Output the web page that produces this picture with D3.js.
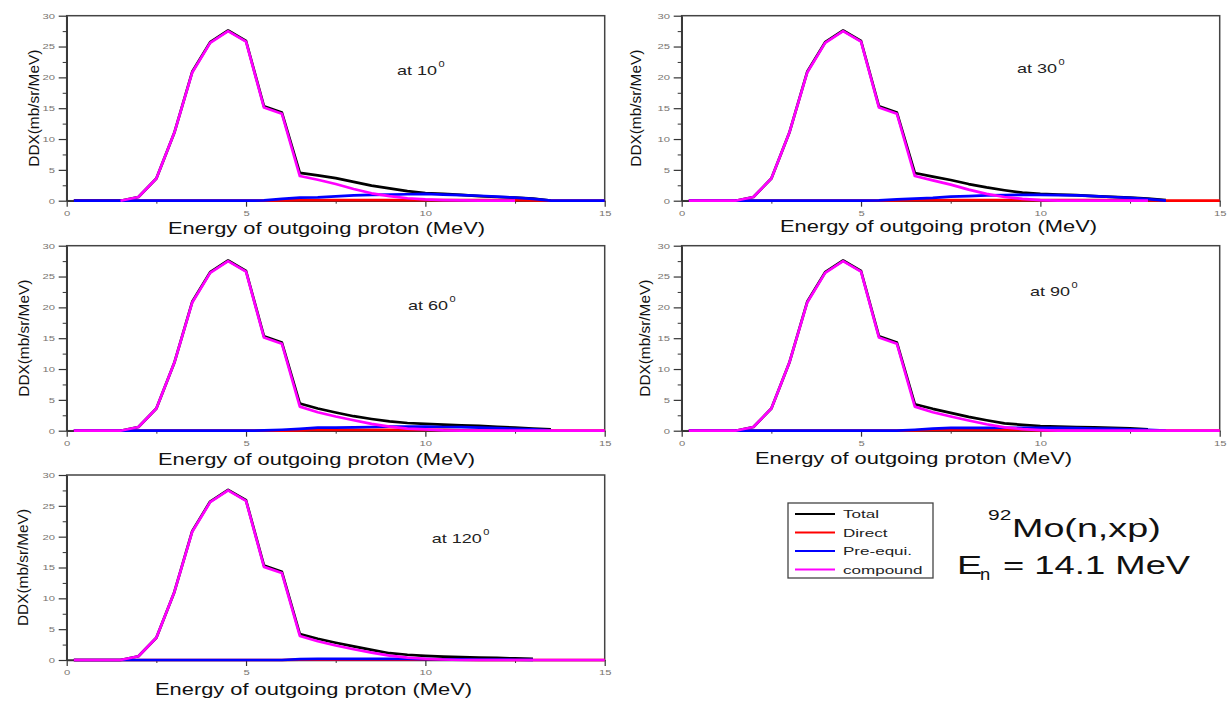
<!DOCTYPE html>
<html>
<head>
<meta charset="utf-8">
<script src="https://cdn.jsdelivr.net/npm/d3@7"></script>
<style>
  body { margin: 0; background: #fff; }
  svg { font-family: "Liberation Sans", Arial, sans-serif; }
</style>
</head>
<body>
<div id="graph"></div>
<script>
// outgoing proton energy grid (MeV)
var energy = [0.2, 0.5, 1, 1.5, 2, 2.5, 3, 3.5, 4, 4.5, 5, 5.5, 6, 6.5, 7, 7.5, 8, 8.5,
  9, 9.5, 10, 10.5, 11, 11.5, 12, 12.5, 13, 13.5, 14, 14.5, 15];

// DDX (mb/sr/MeV), null = not drawn
var total10 = [0, 0, 0, 0, 0.6, 3.6, 11.0, 20.9, 25.7, 27.6, 25.9, 15.3, 14.3, 4.5, 4.1, 3.65, 3.05, 2.45,
  2.0, 1.55, 1.25, 1.1, 0.95, 0.75, 0.6, 0.5, 0.35, 0, null, null, null];
var direct10 = [0, 0, 0, 0, 0, 0, 0, 0, 0, 0, 0, 0, 0.05, 0.08, 0.08, 0.08, 0.08, 0.08,
  0.08, 0.08, 0.08, 0.08, 0.08, 0.08, 0.08, 0.08, 0.05, 0, 0, 0, 0];
var preeq10 = [0, 0, 0, 0, 0, 0, 0, 0, 0, 0, 0, 0.05, 0.3, 0.5, 0.55, 0.7, 0.85, 0.95,
  1.0, 1.05, 1.1, 1.0, 0.9, 0.8, 0.65, 0.5, 0.3, 0, 0, 0, 0];
var compound10 = [null, null, null, 0, 0.6, 3.6, 11.0, 20.8, 25.6, 27.5, 25.8, 15.1, 14.1, 4.0, 3.4, 2.7, 1.9, 1.2,
  0.75, 0.4, 0.2, 0.1, 0.05, 0, 0, 0, null, null, null, null, null];

var total30 = [0, 0, 0, 0, 0.6, 3.6, 11.0, 20.9, 25.7, 27.6, 25.9, 15.3, 14.3, 4.5, 3.9, 3.35, 2.7, 2.15,
  1.7, 1.3, 1.1, 1.0, 0.9, 0.75, 0.62, 0.5, 0.35, 0.1, null, null, null];
var direct30 = [0, 0, 0, 0, 0, 0, 0, 0, 0, 0, 0, 0, 0.05, 0.08, 0.08, 0.08, 0.08, 0.08,
  0.08, 0.08, 0.08, 0.08, 0.08, 0.08, 0.08, 0.08, 0.05, 0, 0, 0, 0];
var preeq30 = [0, 0, 0, 0, 0, 0, 0, 0, 0, 0, 0, 0.05, 0.2, 0.35, 0.45, 0.65, 0.75, 0.85,
  0.9, 0.95, 0.95, 0.9, 0.85, 0.75, 0.6, 0.45, 0.25, 0, null, null, null];
var compound30 = [0, 0, 0, 0, 0.6, 3.6, 11.0, 20.8, 25.6, 27.5, 25.8, 15.1, 14.1, 4.0, 3.3, 2.6, 1.8, 1.1,
  0.6, 0.3, 0.1, 0, 0, 0, 0, 0, 0, null, null, null, null];

var total60 = [0, 0, 0, 0, 0.6, 3.6, 11.0, 20.9, 25.7, 27.6, 25.9, 15.3, 14.3, 4.4, 3.6, 2.95, 2.35, 1.9,
  1.5, 1.25, 1.1, 0.98, 0.88, 0.77, 0.62, 0.5, 0.35, 0.2, null, null, null];
var direct60 = [0, 0, 0, 0, 0, 0, 0, 0, 0, 0, 0, 0, 0, 0.05, 0.15, 0.15, 0.15, 0.15,
  0.15, 0.15, 0.15, 0.15, 0.05, 0, 0, 0, 0, 0, 0, 0, 0];
var preeq60 = [0, 0, 0, 0, 0, 0, 0, 0, 0, 0, 0, 0.05, 0.15, 0.3, 0.5, 0.5, 0.55, 0.6,
  0.65, 0.65, 0.65, 0.6, 0.58, 0.5, 0.42, 0.32, 0.2, 0.05, null, null, null];
var compound60 = [0, 0, 0, 0, 0.6, 3.6, 11.0, 20.8, 25.6, 27.5, 25.8, 15.1, 14.1, 3.9, 3.0, 2.3, 1.7, 1.1,
  0.65, 0.35, 0.2, 0.05, 0, 0, 0, 0, 0, 0, 0, 0, 0];

var total90 = [0, 0, 0, 0, 0.6, 3.6, 11.0, 20.9, 25.7, 27.6, 25.9, 15.3, 14.3, 4.3, 3.55, 2.9, 2.25, 1.7,
  1.2, 0.95, 0.76, 0.68, 0.6, 0.54, 0.48, 0.38, 0.22, null, null, null, null];
var direct90 = [0, 0, 0, 0, 0, 0, 0, 0, 0, 0, 0, 0, 0, 0.05, 0.12, 0.12, 0.12, 0.12,
  0.12, 0.12, 0.05, 0, 0, 0, 0, 0, 0, 0, 0, 0, 0];
var preeq90 = [0, 0, 0, 0, 0, 0, 0, 0, 0, 0, 0, 0, 0, 0.15, 0.35, 0.45, 0.45, 0.47,
  0.48, 0.48, 0.47, 0.45, 0.42, 0.36, 0.3, 0.22, 0.12, 0, null, null, null];
var compound90 = [0, 0, 0, 0, 0.6, 3.6, 11.0, 20.8, 25.6, 27.5, 25.8, 15.1, 14.1, 3.9, 3.0, 2.3, 1.65, 1.05,
  0.55, 0.25, 0.1, 0, 0, 0, 0, 0, 0, 0, 0, 0, 0];

var total120 = [0, 0, 0, 0, 0.6, 3.6, 11.0, 20.9, 25.7, 27.6, 25.9, 15.3, 14.3, 4.2, 3.45, 2.8, 2.2, 1.65,
  1.1, 0.85, 0.68, 0.56, 0.47, 0.4, 0.33, 0.25, 0.18, null, null, null, null];
var direct120 = [0, 0, 0, 0, 0, 0, 0, 0, 0, 0, 0, 0, 0, 0.05, 0.05, 0.05, 0.05, 0.05,
  0.05, 0.05, 0.05, 0.05, 0.05, 0, 0, 0, 0, 0, 0, 0, 0];
var preeq120 = [0, 0, 0, 0, 0, 0, 0, 0, 0, 0, 0, 0, 0, 0.15, 0.17, 0.17, 0.17, 0.17,
  0.17, 0.17, 0.15, 0.12, 0.1, 0.08, 0.06, 0.04, 0.02, null, null, null, null];
var compound120 = [0, 0, 0, 0, 0.6, 3.6, 11.0, 20.8, 25.6, 27.5, 25.8, 15.1, 14.1, 3.9, 3.05, 2.35, 1.75, 1.2,
  0.7, 0.4, 0.2, 0.08, 0, 0, 0, 0, 0, 0, 0, 0, 0];

var angles = ["10", "30", "60", "90", "120"];
var seriesNames = ["Total", "Direct", "Pre-equi.", "compound"];
var seriesColors = ["#000000", "#ff0000", "#0000ff", "#ff00ff"];
var xTicks = [0, 5, 10, 15];
var xMinor = [2.5, 7.5, 12.5];
var yTicks = [0, 5, 10, 15, 20, 25, 30];
var yMinor = [2.5, 7.5, 12.5, 17.5, 22.5, 27.5];

var panelData = [
  [total10, direct10, preeq10, compound10],
  [total30, direct30, preeq30, compound30],
  [total60, direct60, preeq60, compound60],
  [total90, direct90, preeq90, compound90],
  [total120, direct120, preeq120, compound120]
];

// where each panel sits on the page
var layout = [
  {left: 66.7, top: 15.7, tag: [397, 75], ylab: 39, xlab: [168, 234]},
  {left: 681.7, top: 15.7, tag: [1017, 72.7], ylab: 641, xlab: [780, 232]},
  {left: 66.7, top: 245.7, tag: [408, 310], ylab: 29, xlab: [158, 465]},
  {left: 681.7, top: 245.7, tag: [1030, 296], ylab: 650, xlab: [755, 464]},
  {left: 66.7, top: 475, tag: [431.7, 543.3], ylab: 28, xlab: [155, 695]}
];
var pw = 538, ph = 185;

var svg = d3.select('#graph').append('svg')
  .attr('width', 1228)
  .attr('height', 704);

var x = d3.scaleLinear().domain([0, 15]).range([0, pw]);
var y = d3.scaleLinear().domain([0, 30]).range([ph, 0]);

// stretched text, the original picture is wider than it is tall
function wideText(parent, px, py, str, size, sx) {
  return parent.append('text')
    .attr('transform', 'translate(' + px + ',' + py + ') scale(' + sx + ',1)')
    .style('font-size', size + 'px')
    .text(str);
}

function styleAxis(sel) {
  sel.select('.domain').attr('stroke', '#333').attr('stroke-width', 1.5);
  sel.selectAll('.tick line').attr('stroke', '#333').attr('stroke-width', 1.2);
  sel.selectAll('.tick text')
    .attr('fill', '#7a7570')
    .style('font-size', '7.5px')
    .style('font-family', '"Liberation Sans", Arial, sans-serif');
}

function makePanel(i) {
  var L = layout[i];
  var g = svg.append('g')
    .attr('transform', 'translate(' + L.left + ',' + L.top + ')');

  // frame (top and right edges)
  g.append('rect')
    .attr('width', pw).attr('height', ph)
    .attr('fill', 'none')
    .attr('stroke', '#444')
    .attr('stroke-width', 1.5);

  var xa = g.append('g')
    .attr('transform', 'translate(0,' + ph + ')')
    .call(d3.axisBottom(x).tickValues(xTicks).tickSize(6).tickSizeOuter(0));
  styleAxis(xa);
  xa.selectAll('.tick text')
    .attr('y', 10)
    .attr('transform', 'scale(1.5,1)');

  g.append('g')
    .attr('transform', 'translate(0,' + ph + ')')
    .call(d3.axisBottom(x).tickValues(xMinor).tickSize(3).tickFormat(''))
    .call(function(s) { s.select('.domain').remove(); s.selectAll('line').attr('stroke', '#333'); });

  var ya = g.append('g')
    .call(d3.axisLeft(y).tickValues(yTicks).tickSize(8).tickSizeOuter(0));
  styleAxis(ya);
  ya.selectAll('.tick text')
    .attr('x', -7.8)
    .attr('transform', 'scale(1.5,1)');

  g.append('g')
    .call(d3.axisLeft(y).tickValues(yMinor).tickSize(4).tickFormat(''))
    .call(function(s) { s.select('.domain').remove(); s.selectAll('line').attr('stroke', '#333'); });

  // curves: total, direct, pre-equilibrium, compound
  var line = d3.line()
    .defined(function(d) { return d[1] !== null; })
    .x(function(d) { return x(d[0]); })
    .y(function(d) { return y(d[1]); });

  panelData[i].forEach(function(vals, k) {
    g.append('path')
      .datum(energy.map(function(e, j) { return [e, vals[j]]; }))
      .attr('fill', 'none')
      .attr('stroke', seriesColors[k])
      .attr('stroke-width', 2.7)
      .attr('stroke-linejoin', 'round')
      .attr('d', line);
  });

  // axis titles
  svg.append('text')
    .attr('x', L.xlab[0]).attr('y', L.xlab[1])
    .attr('textLength', 317)
    .attr('lengthAdjust', 'spacingAndGlyphs')
    .style('font-size', '16px')
    .attr('fill', '#111')
    .text('Energy of outgoing proton (MeV)');

  svg.append('text')
    .attr('transform', 'translate(' + L.ylab + ',' + (L.top + ph / 2) + ') rotate(-90)')
    .attr('text-anchor', 'middle')
    .attr('textLength', 117)
    .attr('lengthAdjust', 'spacingAndGlyphs')
    .style('font-size', '14px')
    .attr('fill', '#111')
    .text('DDX(mb/sr/MeV)');

  // angle tag with superscript degree
  var tag = wideText(svg, L.tag[0], L.tag[1], 'at ' + angles[i], 12, 1.5).attr('fill', '#222');
  var tw = tag.node().getComputedTextLength() * 1.5;
  wideText(svg, L.tag[0] + tw + 1.5, L.tag[1] - 8, '0', 8.5, 1.3).attr('fill', '#222');
}

d3.range(5).forEach(makePanel);

// legend
var lg = svg.append('g');
lg.append('rect')
  .attr('x', 788).attr('y', 503)
  .attr('width', 145).attr('height', 75)
  .attr('fill', '#fff')
  .attr('stroke', '#444')
  .attr('stroke-width', 1.3);

seriesNames.forEach(function(name, k) {
  var ry = 514 + k * 18.5;
  lg.append('line')
    .attr('x1', 795).attr('x2', 835)
    .attr('y1', ry).attr('y2', ry)
    .attr('stroke', seriesColors[k])
    .attr('stroke-width', 1.8);
  wideText(lg, 843, ry + 4, name, 11, 1.55).attr('fill', '#222');
});

// reaction title
wideText(svg, 988, 520, '92', 15, 1.4).attr('fill', '#111');
wideText(svg, 1012, 537, 'Mo(n,xp)', 26, 1.45).attr('fill', '#111');
wideText(svg, 957, 574, 'E', 26, 1.45).attr('fill', '#111');
wideText(svg, 980, 580, 'n', 16, 1.15).attr('fill', '#111');
wideText(svg, 1003, 574, '= 14.1 MeV', 26, 1.4).attr('fill', '#111');
</script>
</body>
</html>
